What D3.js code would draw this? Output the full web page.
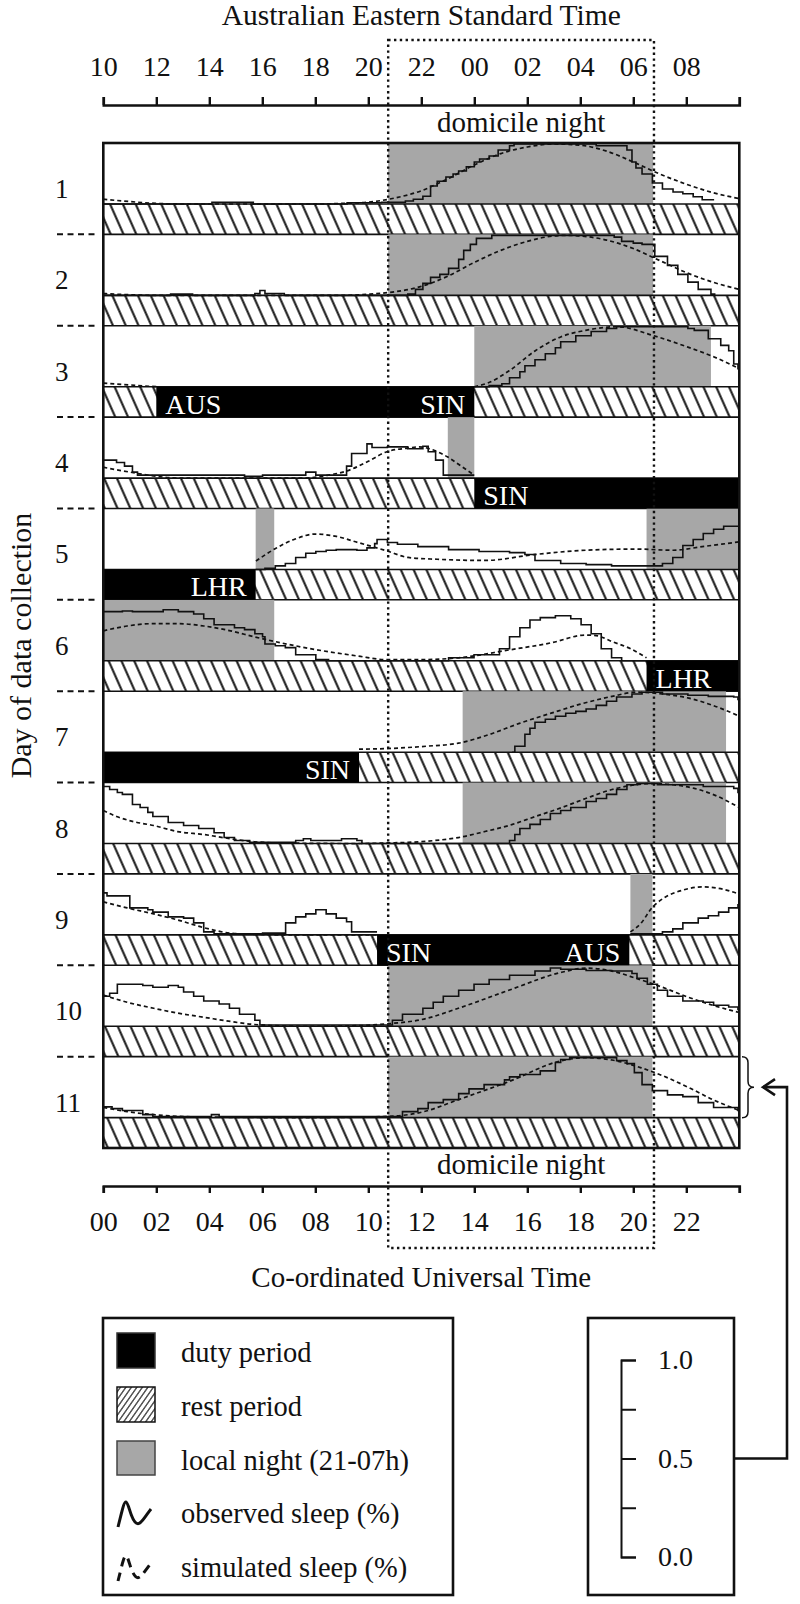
<!DOCTYPE html>
<html>
<head>
<meta charset="utf-8">
<script src="https://cdn.jsdelivr.net/npm/d3@7"></script>
<style>
  body { margin: 0; background: #fff; }
  svg { display: block; font-family: "Liberation Serif", "Times New Roman", serif; }
</style>
</head>
<body>
<svg id="chart" width="800" height="1604"></svg>
<script>
// ---- data (hours are UTC, values are proportion asleep 0..1) ----
const days = [1, 2, 3, 4, 5, 6, 7, 8, 9, 10, 11];
const tickHours = [0, 2, 4, 6, 8, 10, 12, 14, 16, 18, 20, 22, 24];
const aestLabels = ["10", "12", "14", "16", "18", "20", "22", "00", "02", "04", "06", "08", ""];
const utcLabels = ["00", "02", "04", "06", "08", "10", "12", "14", "16", "18", "20", "22", ""];
const domicileNight = [10.75, 20.78];

// local night (grey) per day
const nightSpans = [
  [[10.75, 20.75]],
  [[10.75, 20.75]],
  [[14.0, 22.93]],
  [[13.0, 14.0]],
  [[5.75, 6.45], [20.5, 24]],
  [[0, 6.45]],
  [[13.56, 23.5]],
  [[13.56, 23.5]],
  [[19.89, 20.72]],
  [[10.75, 20.72]],
  [[10.75, 20.72]]
];

// duty periods (everything else in the bar is rest)
const dutyDay = [3, 4, 5, 6, 7, 9];
const dutyStart = [2.0, 14.0, 0, 20.5, 0, 10.33];
const dutyEnd = [14.0, 24, 5.75, 24, 9.65, 19.85];
const dutyLeftLabel = ["AUS", "SIN", "", "LHR", "", "SIN"];
const dutyRightLabel = ["SIN", "", "LHR", "", "SIN", "AUS"];

// observed sleep (step line), null = gap
const observed = [
  [[0,0],[4.1,0.03],[5.66,0],[9.2,0.02],[10.5,0.03],[11.4,0.05],[11.7,0.08],[12.06,0.13],[12.35,0.3],[12.6,0.38],[12.93,0.45],[13.2,0.5],[13.41,0.55],[13.7,0.62],[14.0,0.7],[14.2,0.75],[14.56,0.8],[14.9,0.9],[15.33,0.97],[15.5,1.0],[18.6,0.97],[19.76,0.9],[19.95,0.7],[20.1,0.6],[20.33,0.5],[20.72,0.35],[21.1,0.25],[21.5,0.2],[21.87,0.17],[22.26,0.12],[22.6,0.07],[23.05,0.07]],
  [[0,0],[2.54,0.02],[3.37,0],[5.72,0.03],[5.91,0.08],[6.1,0.03],[6.83,0],[11.49,0.02],[11.78,0.1],[12.06,0.2],[12.35,0.3],[12.7,0.35],[13.03,0.45],[13.41,0.6],[13.6,0.75],[13.85,0.85],[14.08,0.95],[14.66,1.0],[19.28,0.97],[19.56,0.9],[20.0,0.87],[20.33,0.85],[20.81,0.65],[21.29,0.5],[21.68,0.35],[22.06,0.22],[22.45,0.1],[22.93,0.02],[23.1,0.02]],
  [[14.0,0],[14.56,0.02],[15.04,0.05],[15.33,0.15],[15.72,0.25],[15.91,0.35],[16.29,0.45],[16.68,0.55],[17.06,0.65],[17.26,0.75],[17.83,0.85],[18.41,0.92],[18.99,0.97],[19.37,1.0],[22.06,0.97],[22.3,0.94],[22.83,0.8],[23.3,0.69],[23.6,0.6],[23.79,0.38],[23.95,0.3],[24,0.3]],
  [[0,0.3],[0.5,0.26],[0.8,0.2],[1.1,0.1],[1.29,0.05],[5.33,0.03],[6.01,0.05],[7.64,0.1],[8.02,0.05],[9.18,0.2],[9.37,0.41],[9.95,0.57],[10.14,0.51],[10.72,0.52],[11.49,0.49],[12.06,0.53],[12.26,0.44],[12.54,0.3],[12.83,0.05],[14.0,0.05]],
  [[5.75,0],[6.1,0.02],[6.49,0.06],[6.87,0.1],[7.26,0.2],[7.64,0.27],[8.02,0.3],[8.41,0.32],[8.79,0.33],[9.57,0.32],[9.95,0.36],[10.24,0.43],[10.33,0.5],[10.72,0.45],[11.1,0.42],[11.87,0.38],[13.03,0.33],[14.18,0.3],[15.33,0.28],[15.91,0.25],[16.29,0.15],[17.26,0.1],[18.22,0.08],[19.18,0.06],[20.72,0.06],[21.1,0.1],[21.49,0.2],[21.87,0.4],[22.26,0.5],[22.64,0.6],[23.03,0.67],[23.41,0.72],[24,0.72]],
  [[0,0.82],[0.72,0.83],[1.1,0.82],[2.26,0.85],[2.83,0.82],[3.41,0.78],[3.79,0.7],[4.18,0.6],[4.95,0.55],[5.33,0.52],[5.72,0.45],[6.01,0.4],[6.1,0.28],[6.49,0.25],[6.87,0.22],[7.26,0.1],[8.02,0.02],[8.5,0],[13.03,0.05],[13.99,0.1],[14.76,0.1],[14.95,0.2],[15.33,0.4],[15.72,0.55],[16.1,0.68],[16.49,0.72],[17.06,0.75],[17.45,0.75],[17.64,0.7],[18.03,0.6],[18.41,0.45],[18.79,0.2],[19.18,0.05],[19.56,0],[20.5,0]],
  [[15.43,0],[15.53,0.1],[15.91,0.3],[16.1,0.4],[16.29,0.5],[16.68,0.55],[17.06,0.6],[17.45,0.65],[17.83,0.68],[18.22,0.72],[18.6,0.78],[18.99,0.85],[19.37,0.92],[19.95,0.97],[20.33,1.0],[21.1,0.97],[22.06,0.95],[22.83,0.93],[23.79,0.92],[23.95,0.88],[24,0.9]],
  [[0,0.95],[0.24,0.9],[0.53,0.85],[0.72,0.82],[1.1,0.65],[1.39,0.6],[1.68,0.52],[1.87,0.45],[2.45,0.35],[3.03,0.3],[3.6,0.25],[4.18,0.18],[4.56,0.1],[4.95,0.05],[5.52,0.02],[7.26,0.05],[7.55,0.08],[7.83,0.05],[8.99,0.08],[9.57,0.05],[9.76,0],[15.14,0],[15.33,0.05],[15.53,0.15],[15.72,0.25],[16.1,0.32],[16.49,0.4],[16.87,0.5],[17.26,0.55],[17.64,0.6],[18.22,0.7],[18.6,0.75],[18.99,0.82],[19.37,0.9],[19.76,0.98],[20.14,1.0],[20.91,0.98],[22.64,0.95],[23.79,0.92],[23.95,0.85],[24,0.85]],
  [[0,0.7],[0.14,0.65],[1.0,0.45],[1.68,0.42],[1.87,0.38],[2.45,0.3],[3.03,0.28],[3.41,0.2],[3.79,0.05],[4.18,0.02],[6.01,0.03],[6.87,0.02],[6.88,0.2],[7.26,0.3],[7.64,0.35],[8.02,0.42],[8.41,0.35],[8.79,0.28],[9.18,0.22],[9.37,0.05],[10.33,0.05],null,[19.89,0.02],[20.81,0.02],[21.1,0.05],[21.49,0.1],[21.87,0.2],[22.45,0.28],[22.83,0.32],[23.22,0.38],[23.6,0.45],[23.95,0.5],[24,0.5]],
  [[0,0.5],[0.24,0.55],[0.53,0.7],[1.49,0.68],[1.87,0.65],[2.45,0.68],[2.83,0.65],[3.03,0.57],[3.41,0.5],[3.79,0.42],[4.37,0.37],[4.76,0.3],[5.14,0.2],[5.72,0.1],[5.91,0.02],[10.72,0.02],[10.91,0.1],[11.29,0.2],[12.06,0.3],[12.45,0.4],[12.83,0.5],[13.41,0.6],[13.99,0.7],[14.56,0.78],[15.33,0.85],[16.29,0.92],[16.87,0.97],[17.26,0.95],[18.22,0.93],[19.18,0.92],[19.95,0.88],[20.14,0.8],[20.53,0.7],[20.91,0.6],[21.29,0.5],[21.87,0.42],[22.64,0.4],[23.03,0.35],[23.6,0.32],[23.95,0.28],[24,0.28]],
  [[0,0.18],[0.33,0.15],[0.72,0.12],[1.49,0.05],[1.87,0.02],[4.08,0.05],[4.37,0.02],[10.72,0.02],[11.29,0.1],[11.87,0.15],[12.26,0.25],[12.83,0.3],[13.41,0.4],[13.8,0.48],[14.37,0.55],[15.14,0.63],[15.33,0.68],[15.72,0.72],[16.49,0.78],[17.06,0.92],[17.26,0.97],[17.6,1.0],[19.18,1.0],[19.37,0.95],[19.76,0.9],[20.04,0.75],[20.33,0.55],[20.72,0.45],[21.29,0.38],[21.87,0.35],[22.45,0.25],[23.03,0.17],[23.95,0.12],[24,0.12]]
];

// simulated sleep (smooth dashed line)
const simulated = [
  [[0,0.08],[1,0.04],[2,0.01],[3,0],[8,0],[9,0.01],[10,0.03],[11,0.1],[12,0.22],[13,0.42],[14,0.65],[15,0.84],[16,0.95],[17,1.0],[18,0.98],[19,0.88],[20,0.7],[21,0.5],[22,0.33],[23,0.19],[24,0.09]],
  [[0,0.03],[1,0.01],[2,0],[9,0],[10,0.02],[11,0.06],[12,0.15],[13,0.32],[14,0.55],[15,0.75],[16,0.9],[17,0.99],[17.5,1.0],[18,0.99],[19,0.92],[20,0.78],[21,0.58],[22,0.38],[23,0.22],[24,0.1]],
  [[0,0.06],[1,0.03],[2,0],null,[14,0],[14.5,0.06],[15.33,0.27],[16.3,0.6],[17.26,0.83],[18.2,0.94],[19.4,1.0],[20.7,0.86],[22.06,0.66],[23.03,0.5],[24,0.3]],
  [[0,0.18],[1,0.1],[2,0.03],[2.83,0],[7.6,0],[8.5,0.05],[9.2,0.12],[10,0.28],[10.7,0.44],[11.5,0.5],[11.9,0.52],[12.5,0.46],[13.0,0.35],[13.5,0.2],[14.0,0.05]],
  [[5.76,0.14],[6.5,0.35],[7.2,0.5],[8.0,0.59],[8.8,0.55],[9.6,0.45],[10.7,0.31],[11.5,0.2],[12.6,0.17],[14.4,0.15],[16.3,0.25],[18.2,0.32],[20.1,0.34],[21.5,0.32],[22.6,0.38],[24,0.46]],
  [[0,0.5],[0.9,0.58],[1.9,0.62],[2.8,0.62],[3.8,0.58],[4.8,0.5],[5.7,0.4],[7.6,0.22],[9.6,0.08],[10.7,0.02],[11.9,0.02],[13.4,0.05],[15.3,0.18],[16.9,0.3],[18.2,0.43],[18.6,0.42],[19.2,0.32],[19.9,0.2],[20.5,0.05]],
  [[9.65,0.05],[10.7,0.06],[12.2,0.1],[13.4,0.15],[14.6,0.3],[15.7,0.48],[16.9,0.65],[18.0,0.8],[19.2,0.93],[20.1,1.0],[21.1,0.97],[22.1,0.9],[23.0,0.78],[24,0.6]],
  [[0,0.55],[0.5,0.45],[1.1,0.37],[1.9,0.3],[2.8,0.2],[3.8,0.15],[4.8,0.08],[5.7,0.03],[6.7,0.01],[9.6,0],[10.7,0.01],[11.5,0.02],[12.5,0.05],[13.4,0.1],[14.4,0.2],[15.3,0.3],[16.3,0.45],[17.3,0.6],[18.2,0.75],[19.2,0.9],[20.1,0.98],[20.7,1.0],[21.5,0.98],[22.3,0.92],[23.0,0.82],[24,0.6]],
  [[0,0.55],[0.9,0.45],[1.9,0.35],[2.8,0.25],[3.8,0.12],[4.8,0.03],[5.7,0.01],[7,0],[10.33,0],null,[19.89,0.05],[20.3,0.2],[20.7,0.45],[21.1,0.6],[21.9,0.75],[22.6,0.8],[23.4,0.76],[24,0.68]],
  [[0,0.52],[0.9,0.4],[1.9,0.3],[2.8,0.22],[3.8,0.15],[4.8,0.08],[5.7,0.03],[7.6,0],[9.6,0.01],[10.7,0.04],[12.1,0.12],[13.4,0.3],[15.3,0.6],[17.3,0.9],[18.2,0.97],[19.2,0.92],[20.1,0.8],[21.1,0.65],[22.1,0.48],[23.0,0.35],[24,0.23]],
  [[0,0.17],[0.9,0.1],[1.9,0.05],[3.8,0.01],[7.6,0],[10.7,0.02],[12.1,0.1],[13.4,0.3],[15.3,0.6],[17.3,0.95],[18.2,1.0],[19.2,0.96],[20.3,0.83],[21.1,0.7],[22.1,0.5],[23.0,0.3],[24,0.12]]
];

const legendItems = ["duty period", "rest period", "local night (21-07h)", "observed sleep (%)", "simulated sleep (%)"];
const scaleTicks = [0, 0.25, 0.5, 0.75, 1];

// ---- drawing ----
const INK = "#111";
const GREY = "#a7a7a7";
const svg = d3.select("#chart");

const x = d3.scaleLinear().domain([0, 24]).range([103.3, 739.3]);
const dayY = d3.scaleLinear().domain([1, 12]).range([143, 1148]);
const DAY_H = dayY(2) - dayY(1);
const PLOT_H = 61;

const defs = svg.append("defs");
const hatch = defs.append("pattern")
  .attr("id", "hatch")
  .attr("patternUnits", "userSpaceOnUse")
  .attr("width", 12.8).attr("height", 40)
  .attr("patternTransform", "skewX(24)");
hatch.append("rect").attr("width", 12.8).attr("height", 40).attr("fill", "#fff");
hatch.append("line").attr("x1", 6.4).attr("x2", 6.4).attr("y1", 0).attr("y2", 40)
  .attr("stroke", INK).attr("stroke-width", 2.2);

const hatchSmall = defs.append("pattern")
  .attr("id", "hatchSmall")
  .attr("patternUnits", "userSpaceOnUse")
  .attr("width", 5.5).attr("height", 20)
  .attr("patternTransform", "skewX(-35)");
hatchSmall.append("rect").attr("width", 5.5).attr("height", 20).attr("fill", "#fff");
hatchSmall.append("line").attr("x1", 2.75).attr("x2", 2.75).attr("y1", 0).attr("y2", 20)
  .attr("stroke", INK).attr("stroke-width", 1.3);

const obsLine = d3.line().defined(d => d).x(d => x(d[0])).curve(d3.curveStepAfter);
const simLine = d3.line().defined(d => d).x(d => x(d[0])).curve(d3.curveMonotoneX);

const rows = svg.append("g").attr("class", "days");

days.forEach((day, i) => {
  const top = dayY(day);
  const plotBottom = top + PLOT_H;
  const y = d3.scaleLinear().domain([0, 1]).range([plotBottom, top + 1]);
  const g = rows.append("g").attr("class", "day");

  g.selectAll(".night")
    .data(nightSpans[i])
    .join("rect")
    .attr("class", "night")
    .attr("x", d => x(d[0]))
    .attr("y", top)
    .attr("width", d => x(d[1]) - x(d[0]))
    .attr("height", PLOT_H)
    .attr("fill", GREY);

  g.append("rect")
    .attr("x", x(0)).attr("y", plotBottom)
    .attr("width", x(24) - x(0)).attr("height", DAY_H - PLOT_H)
    .attr("fill", "url(#hatch)");

  [plotBottom, top + DAY_H].forEach(yy => {
    g.append("line")
      .attr("x1", x(0)).attr("x2", x(24)).attr("y1", yy).attr("y2", yy)
      .attr("stroke", INK).attr("stroke-width", 1.6);
  });

  g.append("path")
    .attr("d", obsLine.y(d => y(d[1]))(observed[i]))
    .attr("fill", "none").attr("stroke", INK).attr("stroke-width", 1.6);

  g.append("path")
    .attr("d", simLine.y(d => y(d[1]))(simulated[i]))
    .attr("fill", "none").attr("stroke", INK).attr("stroke-width", 1.7)
    .attr("stroke-dasharray", "4,3");
});

// duty periods
const duty = dutyDay.map((d, i) => ({
  day: d, s: dutyStart[i], e: dutyEnd[i], left: dutyLeftLabel[i], right: dutyRightLabel[i]
}));
const dutyG = svg.append("g").attr("class", "duty");
dutyG.selectAll("rect")
  .data(duty)
  .join("rect")
  .attr("x", d => x(d.s))
  .attr("y", d => dayY(d.day) + PLOT_H)
  .attr("width", d => x(d.e) - x(d.s))
  .attr("height", DAY_H - PLOT_H)
  .attr("fill", "#000");
dutyG.selectAll("text.l")
  .data(duty.filter(d => d.left))
  .join("text")
  .attr("class", "l")
  .attr("x", d => x(d.s) + 9)
  .attr("y", d => dayY(d.day) + PLOT_H + 27)
  .attr("fill", "#fff").attr("font-size", 28)
  .text(d => d.left);
dutyG.selectAll("text.r")
  .data(duty.filter(d => d.right))
  .join("text")
  .attr("class", "r")
  .attr("x", d => x(d.e) - 9)
  .attr("y", d => dayY(d.day) + PLOT_H + 27)
  .attr("text-anchor", "end")
  .attr("fill", "#fff").attr("font-size", 28)
  .text(d => d.right);

// frame
svg.append("rect")
  .attr("x", x(0)).attr("y", dayY(1))
  .attr("width", x(24) - x(0)).attr("height", dayY(12) - dayY(1))
  .attr("fill", "none").attr("stroke", INK).attr("stroke-width", 2.6);

// day labels and dashed separators
svg.append("g").selectAll("text")
  .data(days)
  .join("text")
  .attr("x", 55)
  .attr("y", d => dayY(d) + 55)
  .attr("font-size", 27)
  .attr("fill", INK)
  .text(d => d);
svg.append("g").selectAll("line")
  .data(days.slice(1))
  .join("line")
  .attr("x1", 57).attr("x2", 99)
  .attr("y1", d => dayY(d)).attr("y2", d => dayY(d))
  .attr("stroke", INK).attr("stroke-width", 2)
  .attr("stroke-dasharray", "6,4.5");

svg.append("text")
  .attr("transform", `translate(31,${(dayY(1) + dayY(12)) / 2}) rotate(-90)`)
  .attr("text-anchor", "middle")
  .attr("font-size", 30)
  .attr("fill", INK)
  .text("Day of data collection");

// axes
const topAxis = svg.append("g")
  .attr("transform", "translate(0,105)")
  .call(d3.axisTop(x).tickValues(tickHours).tickFormat((d, i) => aestLabels[i])
    .tickSize(8).tickSizeOuter(8).tickPadding(21));
const bottomAxis = svg.append("g")
  .attr("transform", "translate(0,1186)")
  .call(d3.axisBottom(x).tickValues(tickHours).tickFormat((d, i) => utcLabels[i])
    .tickSize(7).tickSizeOuter(7).tickPadding(18));
[topAxis, bottomAxis].forEach(a => {
  a.select(".domain").attr("stroke", INK).attr("stroke-width", 2.6);
  a.selectAll(".tick line").attr("stroke", INK).attr("stroke-width", 2.4);
  a.selectAll(".tick text").attr("font-size", 28).attr("font-family", null).attr("fill", INK);
});
topAxis.attr("font-family", null);
bottomAxis.attr("font-family", null);

svg.append("text")
  .attr("x", (x(0) + x(24)) / 2).attr("y", 25)
  .attr("text-anchor", "middle").attr("font-size", 29.5).attr("fill", INK)
  .text("Australian Eastern Standard Time");
svg.append("text")
  .attr("x", (x(0) + x(24)) / 2).attr("y", 1287)
  .attr("text-anchor", "middle").attr("font-size", 29).attr("fill", INK)
  .text("Co-ordinated Universal Time");

// domicile night dotted box
const dn0 = x(domicileNight[0]), dn1 = x(domicileNight[1]);
svg.append("rect")
  .attr("x", dn0).attr("y", 40)
  .attr("width", dn1 - dn0).attr("height", 1248 - 40)
  .attr("fill", "none").attr("stroke", INK).attr("stroke-width", 2.4)
  .attr("stroke-dasharray", "2.4,3.4");
[132, 1174].forEach(yy => {
  svg.append("text")
    .attr("x", (dn0 + dn1) / 2).attr("y", yy)
    .attr("text-anchor", "middle").attr("font-size", 29).attr("fill", INK)
    .text("domicile night");
});

// legend
const lg = svg.append("g").attr("class", "legend");
lg.append("rect").attr("x", 103).attr("y", 1318).attr("width", 350).attr("height", 277)
  .attr("fill", "#fff").attr("stroke", INK).attr("stroke-width", 2.6);
const rowY = [1350, 1404, 1458, 1511, 1565];
lg.append("rect").attr("x", 117).attr("y", rowY[0] - 17).attr("width", 38).attr("height", 35)
  .attr("fill", "#000").attr("stroke", "#333").attr("stroke-width", 1.5);
lg.append("rect").attr("x", 117).attr("y", rowY[1] - 17).attr("width", 38).attr("height", 35)
  .attr("fill", "url(#hatchSmall)").attr("stroke", INK).attr("stroke-width", 1.5);
lg.append("rect").attr("x", 117).attr("y", rowY[2] - 17).attr("width", 38).attr("height", 34)
  .attr("fill", GREY).attr("stroke", "#444").attr("stroke-width", 1.5);
const iconLine = d3.line().curve(d3.curveBasis);
const wave = [[0, 16], [3, 4], [8, -16], [13, 6], [20, 16], [27, 6], [33, -2]];
lg.append("path")
  .attr("transform", `translate(118,${rowY[3]})`)
  .attr("d", iconLine(wave))
  .attr("fill", "none").attr("stroke", INK).attr("stroke-width", 3);
lg.append("path")
  .attr("transform", `translate(118,${rowY[4]})`)
  .attr("d", iconLine(wave))
  .attr("fill", "none").attr("stroke", INK).attr("stroke-width", 3)
  .attr("stroke-dasharray", "9,6");
lg.selectAll("text.item")
  .data(legendItems)
  .join("text")
  .attr("class", "item")
  .attr("x", 181)
  .attr("y", (d, i) => rowY[i] + 12)
  .attr("font-size", 28.5)
  .attr("fill", INK)
  .text(d => d);

// scale box
svg.append("rect").attr("x", 588).attr("y", 1318).attr("width", 146).attr("height", 277)
  .attr("fill", "#fff").attr("stroke", INK).attr("stroke-width", 2.6);
const sy = d3.scaleLinear().domain([0, 1]).range([1557, 1360]);
const scaleAxis = svg.append("g")
  .attr("transform", "translate(621,0)")
  .call(d3.axisRight(sy).tickValues(scaleTicks)
    .tickFormat(d => (d * 2) % 1 === 0 ? d.toFixed(1) : "")
    .tickSize(15).tickSizeOuter(15).tickPadding(22));
scaleAxis.attr("font-family", null);
scaleAxis.select(".domain").attr("stroke", INK).attr("stroke-width", 2);
scaleAxis.selectAll(".tick line").attr("stroke", INK).attr("stroke-width", 2);
scaleAxis.selectAll(".tick text").attr("font-size", 28).attr("fill", INK);

// connector from scale to day 11
const d11 = dayY(11), mid11 = d11 + PLOT_H / 2;
svg.append("path")
  .attr("d", `M734,${sy(0.5)}H787V${mid11}H763`)
  .attr("fill", "none").attr("stroke", INK).attr("stroke-width", 2.6);
svg.append("path")
  .attr("d", `M775,${mid11 - 8}L763,${mid11}L775,${mid11 + 8}`)
  .attr("fill", "none").attr("stroke", INK).attr("stroke-width", 2.6);
svg.append("path")
  .attr("d", `M742,${d11}Q748,${d11} 748,${d11 + 6}V${mid11 - 6}Q748,${mid11} 754,${mid11}` +
             `Q748,${mid11} 748,${mid11 + 6}V${d11 + PLOT_H - 6}Q748,${d11 + PLOT_H} 742,${d11 + PLOT_H}`)
  .attr("fill", "none").attr("stroke", INK).attr("stroke-width", 1.5);
</script>
</body>
</html>
